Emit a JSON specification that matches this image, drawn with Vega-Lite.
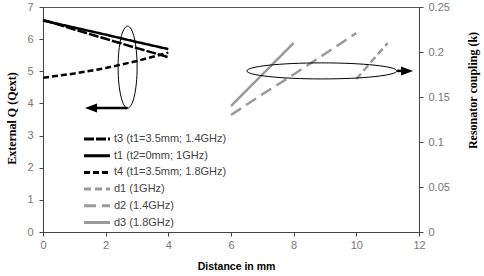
{
  "$schema": "https://vega.github.io/schema/vega-lite/v6.json",
  "width": 376,
  "height": 225,
  "autosize": "none",
  "padding": {"left": 43, "top": 7, "right": 65, "bottom": 44},
  "background": "white",
  "config": {
    "view": {"stroke": "#555", "strokeWidth": 1},
    "axis": {
      "domainColor": "#444", "tickColor": "#444", "tickSize": 4, "grid": false,
      "labelFont": "Liberation Sans", "labelFontSize": 11, "labelColor": "#777",
      "labelFlush": false, "labelOverlap": false,
      "titleFont": "Liberation Serif", "titleFontSize": 12, "titleFontWeight": "bold", "titleColor": "#000"
    },
    "legend": {
      "orient": "none", "legendX": 46, "legendY": 124, "padding": 0,
      "symbolType": "M-2,0H2", "symbolSize": 169, "symbolStrokeWidth": 3,
      "labelFont": "Liberation Sans", "labelFontSize": 11, "labelColor": "#444",
      "labelOffset": 9, "rowPadding": 2.7
    }
  },
  "datasets": {
    "q": [
      {"series": "t3 (t1=3.5mm; 1.4GHz)", "d": 0, "q": 6.6},
      {"series": "t3 (t1=3.5mm; 1.4GHz)", "d": 1, "q": 6.3},
      {"series": "t3 (t1=3.5mm; 1.4GHz)", "d": 2, "q": 6.01},
      {"series": "t3 (t1=3.5mm; 1.4GHz)", "d": 3, "q": 5.72},
      {"series": "t3 (t1=3.5mm; 1.4GHz)", "d": 4, "q": 5.44},
      {"series": "t1 (t2=0mm; 1GHz)", "d": 0, "q": 6.58},
      {"series": "t1 (t2=0mm; 1GHz)", "d": 1, "q": 6.36},
      {"series": "t1 (t2=0mm; 1GHz)", "d": 2, "q": 6.14},
      {"series": "t1 (t2=0mm; 1GHz)", "d": 3, "q": 5.91},
      {"series": "t1 (t2=0mm; 1GHz)", "d": 4, "q": 5.69},
      {"series": "t4 (t1=3.5mm; 1.8GHz)", "d": 0, "q": 4.8},
      {"series": "t4 (t1=3.5mm; 1.8GHz)", "d": 1, "q": 4.93},
      {"series": "t4 (t1=3.5mm; 1.8GHz)", "d": 2, "q": 5.1},
      {"series": "t4 (t1=3.5mm; 1.8GHz)", "d": 3, "q": 5.32},
      {"series": "t4 (t1=3.5mm; 1.8GHz)", "d": 4, "q": 5.58}
    ],
    "k": [
      {"series": "d1 (1GHz)", "d": 10, "k": 0.17},
      {"series": "d1 (1GHz)", "d": 11, "k": 0.21},
      {"series": "d2 (1.4GHz)", "d": 6, "k": 0.13},
      {"series": "d2 (1.4GHz)", "d": 7, "k": 0.153},
      {"series": "d2 (1.4GHz)", "d": 8, "k": 0.175},
      {"series": "d2 (1.4GHz)", "d": 9, "k": 0.198},
      {"series": "d2 (1.4GHz)", "d": 10, "k": 0.221},
      {"series": "d3 (1.8GHz)", "d": 6, "k": 0.14},
      {"series": "d3 (1.8GHz)", "d": 7, "k": 0.175},
      {"series": "d3 (1.8GHz)", "d": 8, "k": 0.21}
    ]
  },
  "layer": [
    {
      "layer": [
        {
          "data": {"name": "q"},
          "mark": {"type": "line", "strokeWidth": 2.5},
          "encoding": {
            "x": {"field": "d", "type": "quantitative", "scale": {"domain": [0, 12], "nice": false},
                  "axis": {"values": [0, 2, 4, 6, 8, 10, 12], "title": "Distance in mm", "titleFont": "Liberation Sans", "titleFontSize": 10.5,
                           "titleX": 193, "titleY": 34, "titleBaseline": "middle", "titleAlign": "center", "labelPadding": 3}},
            "y": {"field": "q", "type": "quantitative", "scale": {"domain": [0, 7], "nice": false},
                  "axis": {"orient": "left", "values": [0, 1, 2, 3, 4, 5, 6, 7], "title": "External Q (Qext)", "labelPadding": 6,
                           "titleX": -32, "titleY": 111, "titleAngle": -90, "titleBaseline": "middle", "titleAlign": "center"}},
            "color": {"field": "series", "type": "nominal", "title": null,
                      "scale": {"domain": ["t3 (t1=3.5mm; 1.4GHz)", "t1 (t2=0mm; 1GHz)", "t4 (t1=3.5mm; 1.8GHz)", "d1 (1GHz)", "d2 (1.4GHz)", "d3 (1.8GHz)"],
                                "range": ["#000000", "#000000", "#000000", "#9a9a9a", "#9a9a9a", "#9a9a9a"]}},
            "strokeDash": {"field": "series", "type": "nominal", "title": null,
                      "scale": {"domain": ["t3 (t1=3.5mm; 1.4GHz)", "t1 (t2=0mm; 1GHz)", "t4 (t1=3.5mm; 1.8GHz)", "d1 (1GHz)", "d2 (1.4GHz)", "d3 (1.8GHz)"],
                                "range": [[10, 2], [1, 0], [6, 3], [7, 4], [12, 6], [1, 0]]}}
          }
        },
        {
          "data": {"values": [{"d": 2.7, "q": 5.13}]},
          "mark": {"type": "point", "filled": false, "opacity": 1, "stroke": "#000", "strokeWidth": 1, "size": 6724,
                   "shape": "M-0.232,0C-0.232,-0.552 -0.128,-1 0,-1C0.128,-1 0.232,-0.552 0.232,0C0.232,0.552 0.128,1 0,1C-0.128,1 -0.232,0.552 -0.232,0Z"},
          "encoding": {
            "x": {"field": "d", "type": "quantitative"},
            "y": {"field": "q", "type": "quantitative",
                  "axis": {"orient": "left", "values": [0, 1, 2, 3, 4, 5, 6, 7], "title": "External Q (Qext)", "labelPadding": 6,
                           "titleX": -32, "titleY": 111, "titleAngle": -90, "titleBaseline": "middle", "titleAlign": "center"}}
          }
        },
        {
          "data": {"values": [{"d": 1.6, "d2": 2.7, "q": 3.86}]},
          "mark": {"type": "rule", "color": "#000", "strokeWidth": 2.5},
          "encoding": {
            "x": {"field": "d", "type": "quantitative"},
            "x2": {"field": "d2"},
            "y": {"field": "q", "type": "quantitative",
                  "axis": {"orient": "left", "values": [0, 1, 2, 3, 4, 5, 6, 7], "title": "External Q (Qext)", "labelPadding": 6,
                           "titleX": -32, "titleY": 111, "titleAngle": -90, "titleBaseline": "middle", "titleAlign": "center"}}
          }
        },
        {
          "data": {"values": [{"d": 1.34, "q": 3.86}]},
          "mark": {"type": "point", "filled": true, "opacity": 1, "color": "#000", "size": 144, "shape": "M0,0L2,-0.75L2,0.75Z"},
          "encoding": {
            "x": {"field": "d", "type": "quantitative"},
            "y": {"field": "q", "type": "quantitative",
                  "axis": {"orient": "left", "values": [0, 1, 2, 3, 4, 5, 6, 7], "title": "External Q (Qext)", "labelPadding": 6,
                           "titleX": -32, "titleY": 111, "titleAngle": -90, "titleBaseline": "middle", "titleAlign": "center"}}
          }
        }
      ]
    },
    {
      "layer": [
        {
          "data": {"name": "k"},
          "mark": {"type": "line", "strokeWidth": 2.5},
          "encoding": {
            "x": {"field": "d", "type": "quantitative"},
            "y": {"field": "k", "type": "quantitative", "scale": {"domain": [0, 0.25], "nice": false},
                  "axis": {"orient": "right", "values": [0, 0.05, 0.1, 0.15, 0.2, 0.25], "format": ".2~f", "title": "Resonator coupling (k)", "labelPadding": 5,
                           "titleX": 53, "titleY": 83, "titleAngle": -90, "titleBaseline": "middle", "titleAlign": "center"}},
            "color": {"field": "series", "type": "nominal", "title": null},
            "strokeDash": {"field": "series", "type": "nominal", "title": null}
          }
        },
        {
          "data": {"values": [{"d": 8.9, "k": 0.179}]},
          "mark": {"type": "point", "filled": false, "opacity": 1, "stroke": "#000", "strokeWidth": 1, "size": 22500,
                   "shape": "M-1,0C-1,-0.059 -0.552,-0.107 0,-0.107C0.552,-0.107 1,-0.059 1,0C1,0.059 0.552,0.107 0,0.107C-0.552,0.107 -1,0.059 -1,0Z"},
          "encoding": {
            "x": {"field": "d", "type": "quantitative"},
            "y": {"field": "k", "type": "quantitative"}
          }
        },
        {
          "data": {"values": [{"d": 11.3, "d2": 11.5, "k": 0.179}]},
          "mark": {"type": "rule", "color": "#000", "strokeWidth": 2.5},
          "encoding": {
            "x": {"field": "d", "type": "quantitative"},
            "x2": {"field": "d2"},
            "y": {"field": "k", "type": "quantitative"}
          }
        },
        {
          "data": {"values": [{"d": 11.81, "k": 0.179}]},
          "mark": {"type": "point", "filled": true, "opacity": 1, "color": "#000", "size": 144, "shape": "M0,0L-2,-0.75L-2,0.75Z"},
          "encoding": {
            "x": {"field": "d", "type": "quantitative"},
            "y": {"field": "k", "type": "quantitative"}
          }
        }
      ]
    }
  ],
  "resolve": {"scale": {"y": "independent"}}
}
